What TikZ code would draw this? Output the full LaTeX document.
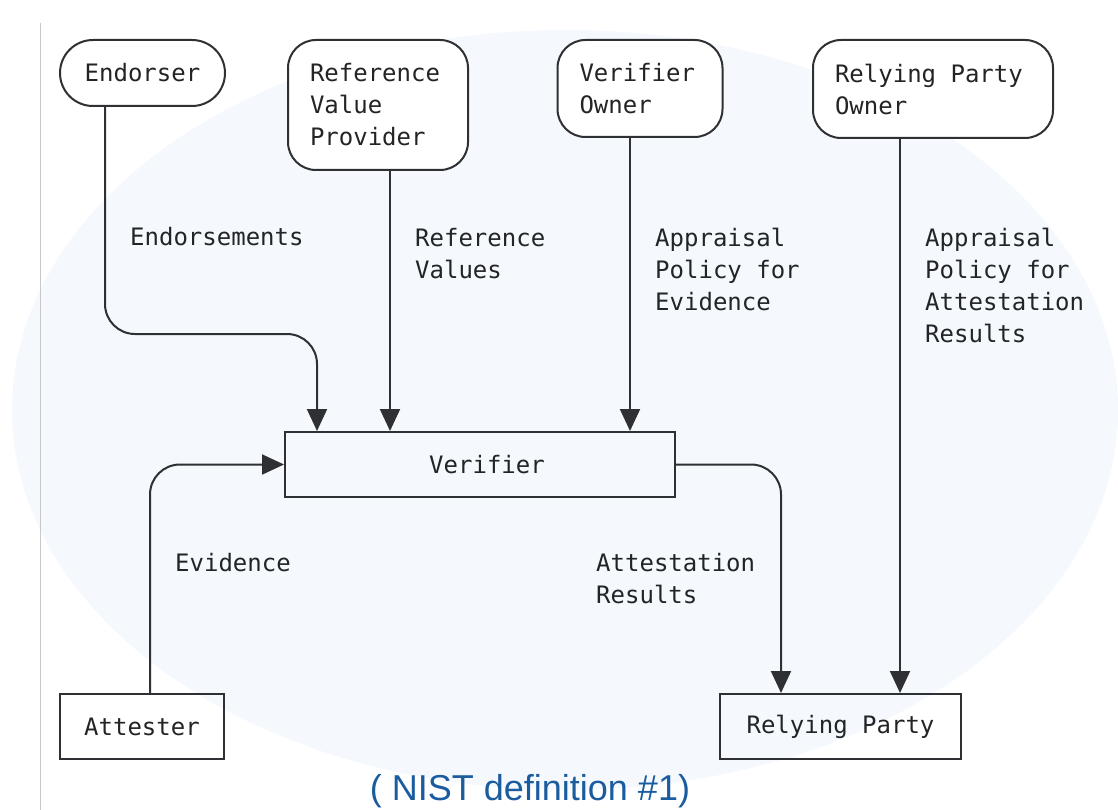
\documentclass[tikz,border=0pt]{standalone}
\usepackage{fontspec}
\newfontfamily\mymono{DejaVu Sans Mono}
\newfontfamily\mycap{Liberation Sans}
\usetikzlibrary{arrows.meta}
\definecolor{bgblue}{HTML}{F5F9FE}
\definecolor{ink}{HTML}{222426}
\definecolor{edge}{HTML}{2E3033}
\definecolor{capblue}{HTML}{1B5C9E}
\definecolor{rule}{HTML}{C8C8C8}
\tikzset{
  mfont/.style={font={\mymono\fontsize{24}{32}\selectfont}, text=ink},
  rbox/.style={mfont, draw=edge, line width=2pt, fill=white, rounded corners=28pt, align=left, inner xsep=25pt, inner ysep=0pt},
  sbox/.style={mfont, draw=edge, line width=2pt, rectangle, inner sep=0pt},
  conn/.style={draw=edge, line width=2pt, rounded corners=30pt, -{Triangle[length=22pt,width=20pt]}},
  lbl/.style={mfont, anchor=base west, inner sep=0pt, align=left},
}
\begin{document}
\begin{tikzpicture}[x=1pt,y=-1pt]
\useasboundingbox (0,0) rectangle (1118,810);
\fill[bgblue] (565,410) ellipse [x radius=553pt, y radius=380pt];
\draw[rule, line width=1pt] (40,23) -- (40,810);

% top boxes
\node[rbox, rounded corners=33pt, align=center, minimum width=165pt, minimum height=66pt, inner xsep=0pt] (endorser) at (142.5,73) {Endorser};
\node[rbox, text width=136pt, inner xsep=22pt, minimum height=130pt] (rvp) at (378,105) {Reference\\Value\\Provider};
\node[rbox, text width=121pt, inner xsep=22pt, minimum height=97pt] (vo) at (640,88.5) {Verifier\\Owner};
\node[rbox, text width=196pt, inner xsep=22pt, minimum height=98pt] (rpo) at (933,89) {Relying\hspace{14.45pt}Party\\Owner};

% middle and bottom boxes
\node[sbox, minimum width=390pt, minimum height=65pt] (verifier) at (480,464.5) {\hspace{14pt}Verifier};
\node[sbox, minimum width=164pt, minimum height=65pt] (attester) at (142,726.5) {Attester};
\node[sbox, minimum width=241pt, minimum height=65pt] (rp) at (840.5,726.5) {Relying Party};

% column coordinates
\coordinate (cE) at (105,0);
\coordinate (cV) at (317,0);
\coordinate (cRV) at (390,0);
\coordinate (cVO) at (630,0);
\coordinate (cRPO) at (900,0);
\coordinate (cA) at (150,0);
\coordinate (cR) at (781,0);
\coordinate (e1) at (105,334);
\coordinate (e2) at (317,334);

% connectors
\draw[conn] (endorser.south -| cE) -- (e1) -- (e2) -- (verifier.north -| cV);
\draw[conn] (rvp.south -| cRV) -- (verifier.north -| cRV);
\draw[conn] (vo.south -| cVO) -- (verifier.north -| cVO);
\draw[conn] (rpo.south -| cRPO) -- (rp.north -| cRPO);
\draw[conn] (attester.north -| cA) |- (verifier.west);
\draw[conn] (verifier.east) -| (rp.north -| cR);

% labels (base anchor = baseline of last line)
\node[lbl] (lE) at (130,246) {Endorsements};
\node[lbl] (lRV) at (415,278) {Reference\\Values};
\node[lbl] (lVO) at (655,310) {Appraisal\\Policy for\\Evidence};
\node[lbl] (lRPO) at (925,342) {Appraisal\\Policy for\\Attestation\\Results};
\node[lbl] (lEv) at (175,571) {Evidence};
\node[lbl] (lAR) at (596,603) {Attestation\\Results};

% caption
\node[font={\mycap\fontsize{36}{40}\selectfont}, text=capblue, anchor=base, inner sep=0pt] (cap) at (530,800) {( NIST definition \#1)};
\end{tikzpicture}
\end{document}
